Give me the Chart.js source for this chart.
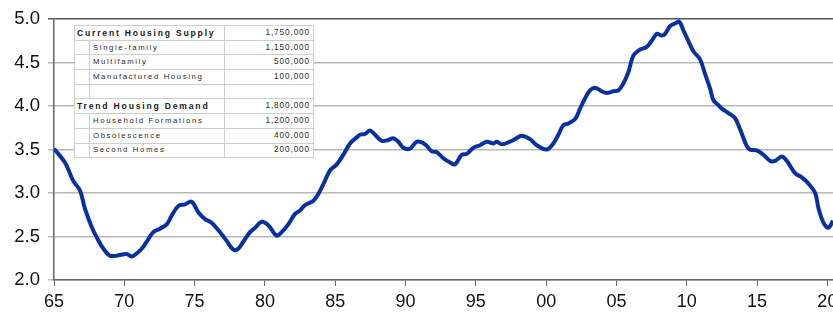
<!DOCTYPE html>
<html>
<head>
<meta charset="utf-8">
<script src="https://cdn.jsdelivr.net/npm/chart.js@4/dist/chart.umd.min.js"></script>
<style>
  html, body { margin: 0; padding: 0; background: #fff; }
  #wrap { position: relative; width: 833px; height: 312px; overflow: hidden; }
  #chart { position: absolute; left: 0; top: 0; }
  #tbl {
    position: absolute; left: 74px; top: 25px; width: 239px; table-layout: fixed;
    border-collapse: collapse; background: #fff;
    font-family: "Liberation Sans", Arial, sans-serif; color: #2a2a2a;
  }
  #tbl td { border: 1px solid #cfcfcf; height: 13.7px; padding: 0 3px; white-space: nowrap; overflow: hidden; font-size: 7.8px; letter-spacing: 1.6px; line-height: 10px; }
  #tbl td.ind { padding: 0; }
  #tbl td.val { text-align: right; letter-spacing: 0.9px; font-size: 8.2px; }
  #tbl td.head { font-weight: bold; font-size: 8.6px; letter-spacing: 1.8px; color: #1a1a1a; padding-left: 2px; }
</style>
</head>
<body>
<div id="wrap">
  <canvas id="chart" width="833" height="312"></canvas>
  <table id="tbl"><colgroup><col style="width:15px"><col style="width:135px"><col style="width:89px"></colgroup></table>
</div>
<script>
document.addEventListener('DOMContentLoaded', function () {
  // years (decimal) and values
  const years = [
    1965.00, 1965.78, 1966.37, 1966.85, 1967.20, 1967.68, 1968.04, 1968.51, 1968.98, 1969.46,
    1970.17, 1970.53, 1971.24, 1971.59, 1972.06, 1972.54, 1973.02, 1973.37, 1973.84, 1974.32,
    1974.79, 1975.26, 1975.74, 1976.10, 1976.33, 1976.81, 1977.28, 1977.75, 1978.11, 1978.46,
    1978.94, 1979.30, 1979.77, 1980.24, 1980.84, 1981.19, 1981.66, 1982.14, 1982.50, 1982.85,
    1983.44, 1983.80, 1984.15, 1984.63, 1985.11, 1985.58, 1986.05, 1986.53, 1986.76, 1987.12,
    1987.48, 1987.83, 1988.31, 1988.78, 1989.13, 1989.49, 1989.84, 1990.32, 1990.80, 1991.39,
    1991.86, 1992.22, 1992.69, 1993.17, 1993.52, 1994.00, 1994.35, 1994.82, 1995.30, 1995.78,
    1996.25, 1996.49, 1996.84, 1997.43, 1997.79, 1998.26, 1998.85, 1999.33, 2000.04, 2000.51,
    2000.87, 2001.22, 2001.58, 2002.06, 2002.41, 2002.77, 2003.12, 2003.48, 2003.95, 2004.31,
    2004.78, 2005.14, 2005.49, 2005.85, 2006.20, 2006.68, 2007.15, 2007.51, 2007.87, 2008.22,
    2008.46, 2008.81, 2009.17, 2009.47, 2009.76, 2010.11, 2010.47, 2010.94, 2011.30, 2011.66,
    2011.89, 2012.25, 2012.49, 2012.96, 2013.44, 2013.80, 2014.27, 2014.50, 2014.98, 2015.45,
    2015.93, 2016.28, 2016.76, 2017.11, 2017.70, 2018.18, 2018.59, 2019.13, 2019.36, 2019.72,
    2020.07, 2020.40
  ];
  const values = [
    3.51, 3.35, 3.14, 3.03, 2.82, 2.61, 2.49, 2.36, 2.28, 2.28,
    2.30, 2.27, 2.36, 2.44, 2.55, 2.59, 2.64, 2.74, 2.85, 2.87,
    2.90, 2.78, 2.70, 2.67, 2.64, 2.55, 2.45, 2.35, 2.36, 2.44,
    2.55, 2.60, 2.67, 2.63, 2.51, 2.55, 2.64, 2.76, 2.80, 2.86,
    2.91, 2.99, 3.10, 3.26, 3.33, 3.44, 3.57, 3.64, 3.67, 3.68,
    3.72, 3.67, 3.60, 3.61, 3.63, 3.59, 3.52, 3.51, 3.59, 3.56,
    3.48, 3.47, 3.40, 3.35, 3.33, 3.44, 3.45, 3.52, 3.55, 3.59,
    3.57, 3.59, 3.56, 3.59, 3.62, 3.66, 3.62, 3.55, 3.50, 3.57,
    3.67, 3.78, 3.80, 3.85, 3.97, 4.09, 4.18, 4.21, 4.17, 4.15,
    4.17, 4.18, 4.26, 4.39, 4.58, 4.65, 4.68, 4.75, 4.83, 4.81,
    4.83, 4.92, 4.95, 4.97, 4.87, 4.75, 4.63, 4.54, 4.37, 4.20,
    4.07, 4.01, 3.97, 3.92, 3.86, 3.73, 3.54, 3.50, 3.49, 3.44,
    3.37, 3.37, 3.42, 3.37, 3.23, 3.18, 3.12, 3.00, 2.83, 2.66,
    2.60, 2.68
  ];
  const xTicks = [1965, 1970, 1975, 1980, 1985, 1990, 1995, 2000, 2005, 2010, 2015, 2020];
  const yTicks = [2.0, 2.5, 3.0, 3.5, 4.0, 4.5, 5.0];

  const tableLabels = ['Current Housing Supply', 'Single-family', 'Multifamily', 'Manufactured Housing', '',
    'Trend Housing Demand', 'Household Formations', 'Obsolescence', 'Second Homes'];
  const tableValues = ['1,750,000', '1,150,000', '500,000', '100,000', '',
    '1,800,000', '1,200,000', '400,000', '200,000'];
  const tableHeads = [true, false, false, false, false, true, false, false, false];

  const tbl = document.getElementById('tbl');
  tableLabels.forEach((lab, i) => {
    const tr = document.createElement('tr');
    if (tableHeads[i]) {
      tr.innerHTML = `<td class="head" colspan="2">${lab}</td><td class="val">${tableValues[i]}</td>`;
    } else {
      tr.innerHTML = `<td class="ind"></td><td class="lab">${lab}</td><td class="val">${tableValues[i]}</td>`;
    }
    tbl.appendChild(tr);
  });

  const points = years.map((x, i) => ({ x, y: values[i] }));

  new Chart(document.getElementById('chart'), {
    type: 'line',
    data: {
      datasets: [{
        data: points,
        borderColor: '#0731a0',
        borderWidth: 4,
        pointRadius: 0,
        tension: 0.35,
        fill: false
      }]
    },
    options: {
      responsive: false,
      animation: false,
      layout: { padding: { top: 5.5, right: 0, left: 0, bottom: 0 } },
      plugins: { legend: { display: false }, tooltip: { enabled: false } },
      scales: {
        x: {
          type: 'linear', min: 1965, max: 2020.4,
          afterBuildTicks: s => { s.ticks = xTicks.map(v => ({ value: v })); },
          afterFit: s => { s.paddingRight = 0; s.height = 32; },
          ticks: {
            autoSkip: false, maxRotation: 0, padding: 5, color: '#111',
            font: { family: '"Liberation Sans Narrow", "Liberation Sans", Arial', size: 18 },
            callback: v => String(v % 100).padStart(2, '0')
          },
          grid: { drawOnChartArea: false, tickLength: 6, color: '#666' },
          border: { color: '#666', width: 1.5 }
        },
        y: {
          min: 2.0, max: 5.0,
          afterBuildTicks: s => { s.ticks = yTicks.map(v => ({ value: v })); },
          afterFit: s => { s.width = 54; },
          ticks: {
            padding: 8, color: '#111',
            font: { family: '"Liberation Sans", Arial', size: 18.5 },
            callback: v => v.toFixed(1)
          },
          grid: {
            tickLength: 6,
            color: ctx => ctx.tick && ctx.tick.value === 5 ? '#555' : '#b8b8b8',
            lineWidth: 1.5
          },
          border: { color: '#666', width: 1.5 }
        }
      }
    }
  });
});
</script>
</body>
</html>
